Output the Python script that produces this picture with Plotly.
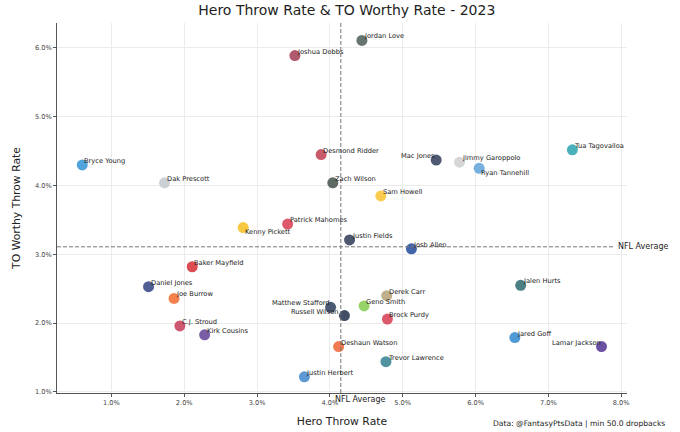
import plotly.graph_objects as go

# ---- data (percent units) ----
players = [
    "Jordan Love", "Joshua Dobbs", "Desmond Ridder", "Zach Wilson", "Sam Howell",
    "Mac Jones", "Jimmy Garoppolo", "Ryan Tannehill", "Tua Tagovailoa", "Kenny Pickett",
    "Patrick Mahomes", "Justin Fields", "Josh Allen", "Baker Mayfield", "Daniel Jones",
    "Joe Burrow", "C.J. Stroud", "Kirk Cousins", "Matthew Stafford", "Russell Wilson",
    "Geno Smith", "Derek Carr", "Brock Purdy", "Deshaun Watson", "Trevor Lawrence",
    "Justin Herbert", "Jalen Hurts", "Jared Goff", "Lamar Jackson", "Bryce Young",
    "Dak Prescott",
]
hero_throw_rate = [
    4.44, 3.52, 3.88, 4.04, 4.70,
    5.46, 5.78, 6.05, 7.33, 2.81,
    3.42, 4.27, 5.12, 2.11, 1.51,
    1.86, 1.94, 2.28, 4.01, 4.20,
    4.47, 4.78, 4.79, 4.12, 4.77,
    3.65, 6.62, 6.54, 7.73, 0.60,
    1.73,
]
to_worthy_rate = [
    6.11, 5.89, 4.45, 4.04, 3.85,
    4.37, 4.34, 4.25, 4.52, 3.39,
    3.44, 3.21, 3.08, 2.82, 2.53,
    2.36, 1.96, 1.83, 2.23, 2.11,
    2.25, 2.40, 2.06, 1.66, 1.44,
    1.22, 2.55, 1.79, 1.66, 4.30,
    4.04,
]
nfl_avg_hero = 4.15
nfl_avg_tow = 3.11
x_ticks = [1, 2, 3, 4, 5, 6, 7, 8]
x_tick_labels = ["1.0%", "2.0%", "3.0%", "4.0%", "5.0%", "6.0%", "7.0%", "8.0%"]
y_ticks = [1, 2, 3, 4, 5, 6]
y_tick_labels = ["1.0%", "2.0%", "3.0%", "4.0%", "5.0%", "6.0%"]

# ---- styles ----
team_colors = [
    "#55675e", "#a9475f", "#c2485a", "#4f5b56", "#f8c63a",
    "#3c4863", "#d2d2d2", "#68a6dc", "#36a8b3", "#f6c22e",
    "#d8465a", "#3a4561", "#2f53a1", "#d8393f", "#3e4d8a",
    "#f4733a", "#c94563", "#6a4d9d", "#384966", "#2e3c55",
    "#8bce58", "#b9a77e", "#d8475b", "#f26b3d", "#3f8797",
    "#4a8ed0", "#3a7277", "#3d8fd0", "#5a3e98", "#3c9ad9",
    "#c8cbcf",
]
label_pos = {
    "Mac Jones": "left", "Matthew Stafford": "left", "Russell Wilson": "left",
    "Lamar Jackson": "left", "Ryan Tannehill": "below", "Kenny Pickett": "below",
}

FONT = "DejaVu Sans"

fig = go.Figure()
fig.add_trace(go.Scatter(
    x=hero_throw_rate, y=to_worthy_rate, mode="markers",
    marker=dict(color=team_colors, size=11, opacity=0.9, line=dict(width=0)),
    text=players, hoverinfo="text", showlegend=False,
))

annotations = []
for name, xv, yv in zip(players, hero_throw_rate, to_worthy_rate):
    pos = label_pos.get(name, "ur")
    if pos == "left":
        xa, xs, ys = "right", (-3 if name == "Russell Wilson" else 1), 4
    elif pos == "below":
        xa, xs, ys = "left", 0, -4.5
    else:
        xa, xs, ys = "left", 0, 4
    annotations.append(dict(
        x=xv, y=yv, xref="x", yref="y", text=name, showarrow=False,
        xanchor=xa, yanchor="middle", xshift=xs, yshift=ys,
        font=dict(family=FONT, size=6.7, color="#222222"),
    ))

annotations.append(dict(
    x=7.93, y=nfl_avg_tow, xref="x", yref="y", text="NFL Average", showarrow=False,
    xanchor="left", yanchor="middle", font=dict(family=FONT, size=8, color="#222222"),
))
annotations.append(dict(
    x=nfl_avg_hero, y=0, xref="x", yref="paper", text="NFL Average", showarrow=False,
    xanchor="left", yanchor="middle", xshift=-8, yshift=-6,
    font=dict(family=FONT, size=8, color="#222222"),
))
annotations.append(dict(
    x=1.0696, y=-0.083, xref="paper", yref="paper",
    text="Data: @FantasyPtsData | min 50.0 dropbacks", showarrow=False,
    xanchor="right", yanchor="middle", font=dict(family=FONT, size=7.6, color="#222222"),
))

shapes = [
    dict(type="line", xref="x", yref="paper", x0=nfl_avg_hero, x1=nfl_avg_hero, y0=0, y1=1,
         line=dict(color="#777777", width=1, dash="4px,2px")),
    dict(type="line", xref="paper", yref="y", x0=0, x1=0.978, y0=nfl_avg_tow, y1=nfl_avg_tow,
         line=dict(color="#777777", width=1, dash="4px,2px")),
]

axis_common = dict(
    showgrid=True, gridcolor="#ebebeb", gridwidth=1, zeroline=False,
    showline=True, linecolor="#555555", linewidth=1, mirror=False,
    ticks="outside", ticklen=3, tickcolor="#555555", tickwidth=1,
    tickfont=dict(family=FONT, size=6.6, color="#444444"),
    tickmode="array", automargin=False,
)

fig.update_layout(
    width=680, height=432,
    margin=dict(l=57, r=53, t=23, b=39, pad=0),
    paper_bgcolor="white", plot_bgcolor="white",
    font=dict(family=FONT),
    title=dict(text="Hero Throw Rate & TO Worthy Rate - 2023", x=0.51, xref="container",
               xanchor="center", y=1 - 10 / 432, yanchor="middle",
               font=dict(family=FONT, size=14, color="#222222")),
    xaxis=dict(range=[0.253, 8.08], tickvals=x_ticks, ticktext=x_tick_labels,
               title=dict(text="Hero Throw Rate", standoff=11,
                          font=dict(family=FONT, size=10.8, color="#222222")),
               **axis_common),
    yaxis=dict(range=[0.985, 6.363], tickvals=y_ticks, ticktext=y_tick_labels,
               title=dict(text="TO Worthy Throw Rate", standoff=12,
                          font=dict(family=FONT, size=10.8, color="#222222")),
               **axis_common),
    annotations=annotations,
    shapes=shapes,
)

fig.write_html(
    "out.html",
    config={"displayModeBar": False},
    post_script="document.body.style.margin='0';document.body.style.padding='0';"
                "document.documentElement.style.overflow='hidden';",
)
